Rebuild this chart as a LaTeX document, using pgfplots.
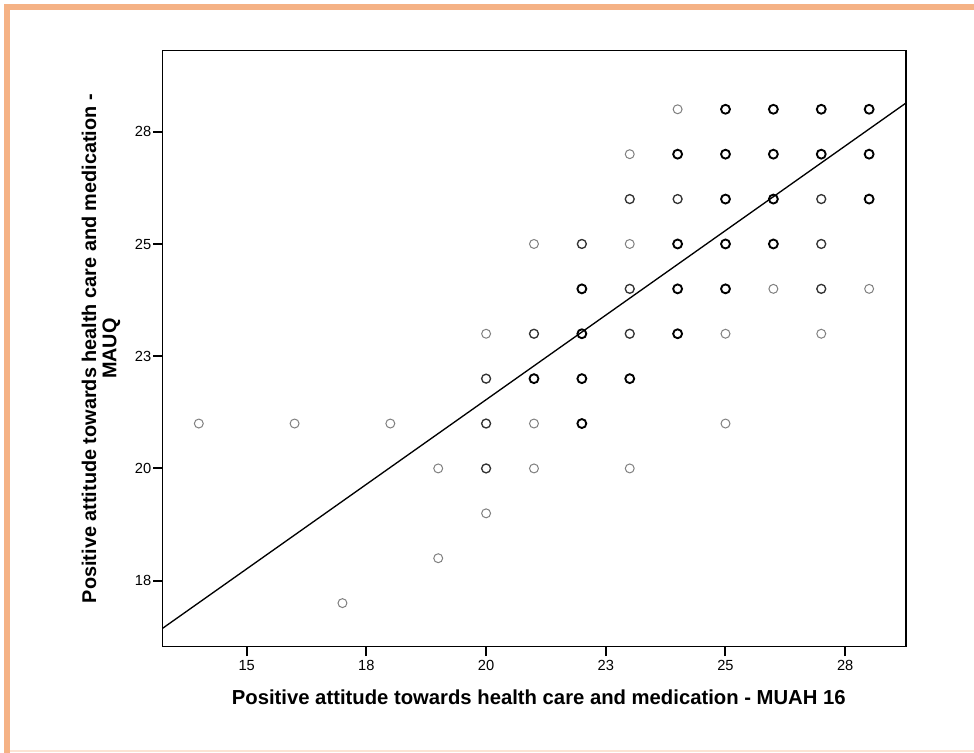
\documentclass[border=0pt]{standalone}
\usepackage{pgfplots}
\pgfplotsset{compat=1.18}
\usepackage{fontspec}
\setmainfont{Liberation Sans}
\definecolor{frameor}{RGB}{245,178,133}
\definecolor{framelight}{RGB}{252,228,212}
\begin{document}
\begin{tikzpicture}
\useasboundingbox (-122.0pt,-79.7pt) rectangle (608.5pt,485.0pt);
\fill[white] (-122.0pt,-79.7pt) rectangle (608.5pt,485.0pt);
\draw[framelight, line width=0.9pt] (-117pt,-78.2pt) -- (612pt,-78.2pt);
\draw[frameor, line width=4.5pt] (-116.8pt,-82pt) -- (-116.8pt,479.4pt) -- (612pt,479.4pt);
\begin{axis}[
  at={(0,0)}, anchor=south west,
  scale only axis, width=557.5pt, height=447.15pt,
  xmin=13.245, xmax=28.77, ymin=16.03, ymax=29.31,
  xtick={15,17.5,20,22.5,25,27.5}, xticklabels={15,18,20,23,25,28},
  ytick={17.5,20,22.5,25,27.5}, yticklabels={18,20,23,25,28},
  tick align=outside, xtick pos=bottom, ytick pos=left,
  major tick length=7pt,
  every tick/.style={black, line width=1.5pt},
  axis line style={line width=1pt},
  ticklabel style={font=\fontsize{11}{13}\selectfont},
  yticklabel style={xshift=2pt},
  /pgf/number format/assume math mode=true,
  xlabel={Positive attitude towards health care and medication - MUAH 16},
  xlabel style={at={(axis description cs:0.506,-0.0715)}, anchor=north, inner sep=0pt, font=\bfseries\fontsize{15.2}{17}\selectfont},
  ylabel={Positive attitude towards health care and medication -\\MAUQ},
  ylabel style={at={(axis description cs:-0.0565,0.5)}, rotate=0, anchor=south, align=center, inner sep=0pt, font=\bfseries\fontsize{14.9}{15.2}\selectfont},
]
% regression line
\addplot[black, line width=1pt, no marks] coordinates {(13.245,16.44) (28.77,28.14)};
% light points
\addplot[only marks, mark=o, mark size=3.35pt, mark options={draw=black!50, line width=0.75pt}] coordinates {
(24,28) (23,27) (21,25) (23,25) (26,24) (28,24) (20,23) (25,23) (27,23)
(14,21) (16,21) (18,21) (21,21) (25,21) (19,20) (21,20) (23,20) (20,19) (19,18) (17,17)};
% medium points
\addplot[only marks, mark=o, mark size=3.35pt, mark options={draw=black!80, line width=1pt}] coordinates {
(23,26) (24,26) (27,26) (22,25) (27,25) (23,24) (27,24) (21,23) (23,23) (20,22) (20,21) (20,20)};
% bold points
\addplot[only marks, mark=o, mark size=3.35pt, mark options={draw=black, line width=1.4pt}] coordinates {
(25,28) (26,28) (27,28) (28,28)
(24,27) (25,27) (26,27) (27,27) (28,27)
(25,26) (26,26) (28,26)
(24,25) (25,25) (26,25)
(22,24) (24,24) (25,24)
(22,23) (24,23)
(21,22) (22,22) (23,22)
(22,21)};
\end{axis}
\end{tikzpicture}
\end{document}
